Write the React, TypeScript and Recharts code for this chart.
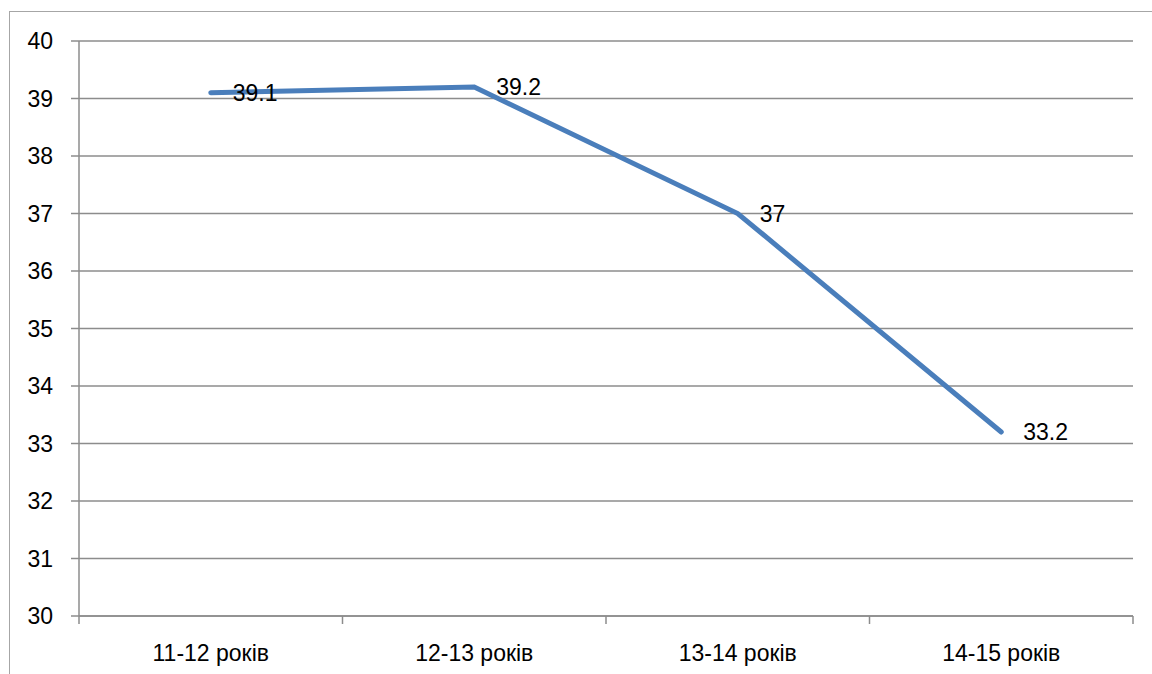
import { LineChart, Line, XAxis, YAxis, CartesianGrid, LabelList } from 'recharts';

const categories = ['11-12 років', '12-13 років', '13-14 років', '14-15 років'];
const values = [39.1, 39.2, 37, 33.2];
const yTicks = [30, 31, 32, 33, 34, 35, 36, 37, 38, 39, 40];

const data = categories.map((name, i) => ({ name, value: values[i] }));

const WIDTH = 1152;
const HEIGHT = 674;
const MARGIN = { top: 41, right: 19, left: 0, bottom: 0 };
const Y_AXIS_WIDTH = 79;
const X_AXIS_HEIGHT = 58;
const PLOT_W = WIDTH - MARGIN.left - MARGIN.right - Y_AXIS_WIDTH;
const BAND = PLOT_W / categories.length;

const FONT = '"Liberation Sans", Arial, sans-serif';
const GRID = '#8c8c8c';

// category label in the middle, tick marks on the band edges
// (recharts hands the tick a y that is already 8px below the axis line)
const CategoryTick = (props: any) => {
  const { x, y, payload, index } = props;
  const axisY = y - 8;
  const left = x - BAND / 2;
  const right = x + BAND / 2;
  return (
    <g>
      <line x1={left} y1={axisY} x2={left} y2={axisY + 8} stroke={GRID} strokeWidth={1.5} />
      {index === categories.length - 1 && (
        <line x1={right} y1={axisY} x2={right} y2={axisY + 8} stroke={GRID} strokeWidth={1.5} />
      )}
      <text
        x={x}
        y={axisY + 37}
        textAnchor='middle'
        dominantBaseline='central'
        fontSize={23}
        fontFamily={FONT}
        fill='#000'
      >
        {payload.value}
      </text>
    </g>
  );
};

const App = () => {
  return (
    <div
      style={{
        position: 'fixed',
        left: 0,
        top: 0,
        width: WIDTH,
        height: HEIGHT,
        background: '#fff',
        overflow: 'hidden',
      }}
    >
      <div
        style={{
          position: 'absolute',
          left: 9,
          top: 11,
          width: WIDTH,
          height: HEIGHT,
          border: '1.5px solid #a6a6a6',
        }}
      />
      <div style={{ position: 'absolute', left: 0, top: 0 }}>
        <LineChart width={WIDTH} height={HEIGHT} data={data} margin={MARGIN}>
          <CartesianGrid vertical={false} stroke={GRID} strokeWidth={1.5} />
          <XAxis
            dataKey='name'
            scale='band'
            height={X_AXIS_HEIGHT}
            axisLine={{ stroke: GRID, strokeWidth: 1.5 }}
            tickLine={false}
            tick={<CategoryTick />}
            interval={0}
          />
          <YAxis
            width={Y_AXIS_WIDTH}
            domain={[30, 40]}
            ticks={yTicks}
            interval={0}
            axisLine={{ stroke: GRID, strokeWidth: 1.5 }}
            tickLine={{ stroke: GRID, strokeWidth: 1.5 }}
            tickSize={8}
            tickMargin={18}
            tick={{ fontSize: 23, fontFamily: FONT, fill: '#000' }}
          />
          <Line
            type='linear'
            dataKey='value'
            stroke='#4a7ebb'
            strokeWidth={5}
            strokeLinecap='round'
            dot={false}
            activeDot={false}
            isAnimationActive={false}
          >
            <LabelList
              dataKey='value'
              position='right'
              offset={22}
              fontSize={23}
              fontFamily={FONT}
              fill='#000'
            />
          </Line>
        </LineChart>
      </div>
    </div>
  );
};

export default App;
